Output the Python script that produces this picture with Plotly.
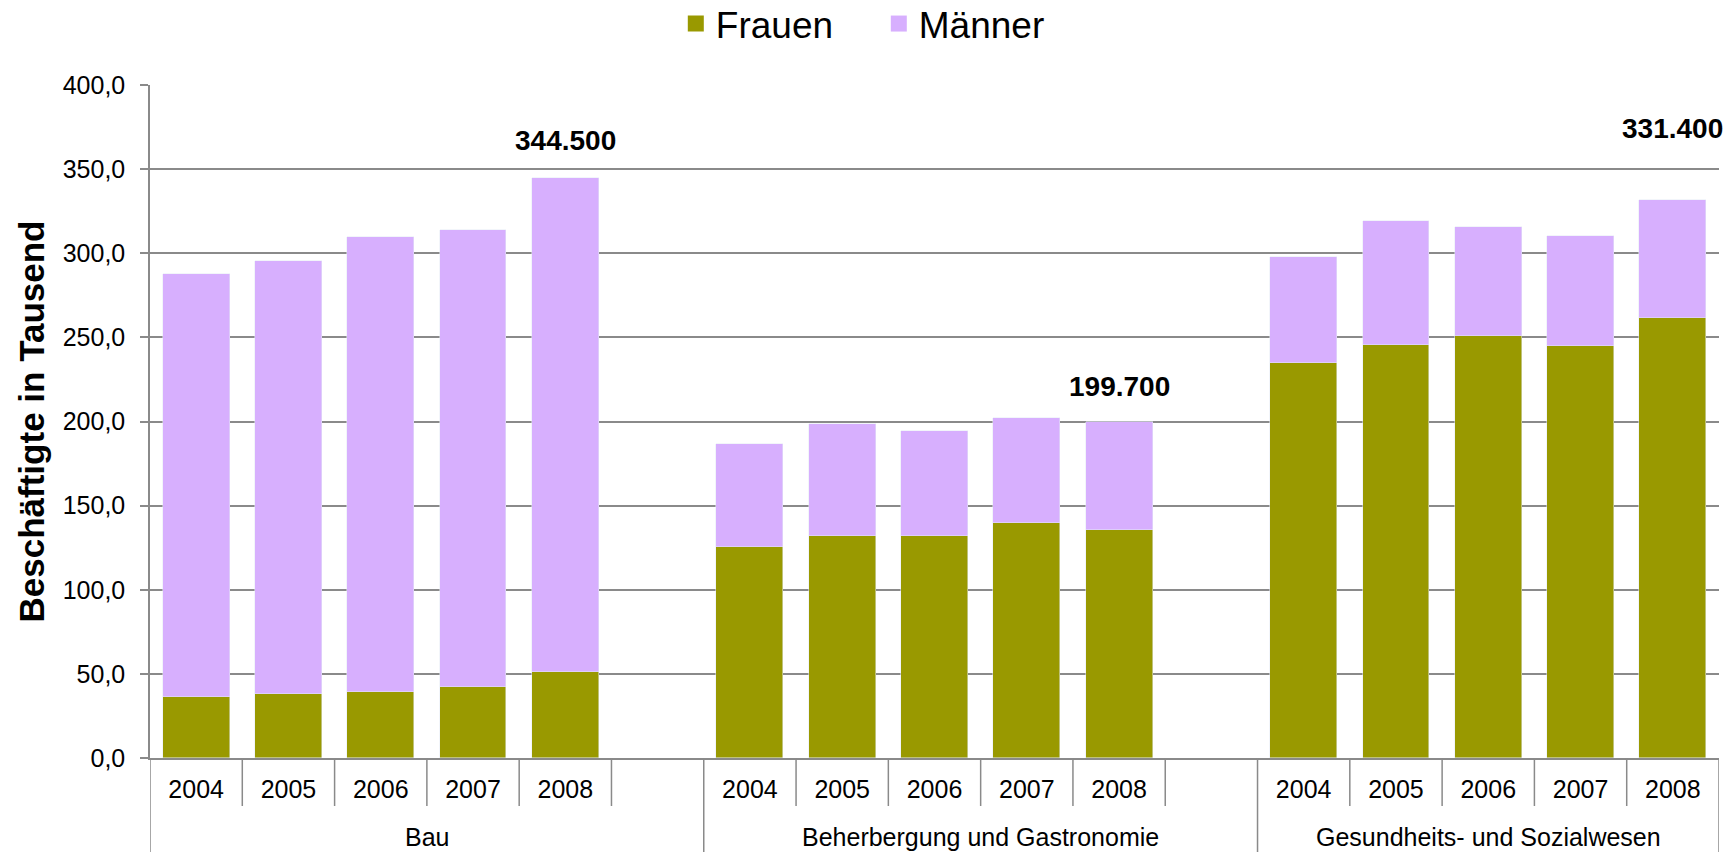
import plotly.graph_objects as go

# ---------------- data ----------------
groups = ["Bau", "Beherbergung und Gastronomie", "Gesundheits- und Sozialwesen"]
years = ["2004", "2005", "2006", "2007", "2008"]

frauen_bau = [36.5, 38.0, 39.1, 42.0, 51.2]
maenner_bau = [251.1, 257.3, 270.3, 271.9, 293.3]

frauen_gastro = [125.6, 131.9, 131.9, 139.8, 135.8]
maenner_gastro = [60.9, 66.7, 62.5, 62.5, 63.9]

frauen_gesund = [234.8, 245.3, 251.0, 244.7, 261.7]
maenner_gesund = [62.9, 73.8, 64.5, 65.3, 69.7]

label_values = [344.5, 199.7, 331.4]   # totals 2008, shown above the bars
y_ticks = [0, 50, 100, 150, 200, 250, 300, 350, 400]

# ---------------- styling ----------------
OLIVE = "#999900"
LILAC = "#d7affe"
GRID = "#8a8a8a"
FONT = "Arial, Liberation Sans, sans-serif"
SLOTS = 6          # 5 years + 1 empty slot per group
BAR_W = 0.725
label_shift = [38, 36, 72]

frauen = [frauen_bau, frauen_gastro, frauen_gesund]
maenner = [maenner_bau, maenner_gastro, maenner_gesund]

x_pos, f_vals, m_vals, tick_text = [], [], [], []
for g in range(len(groups)):
    for i, yr in enumerate(years):
        x_pos.append(g * SLOTS + i)
        f_vals.append(frauen[g][i])
        m_vals.append(maenner[g][i])
        tick_text.append(yr)

x_min = -0.5
x_max = (len(groups) - 1) * SLOTS + len(years) - 0.5

fig = go.Figure()
fig.add_trace(go.Bar(x=x_pos, y=f_vals, name="Frauen", marker_color=OLIVE,
                     width=BAR_W, showlegend=False, hoverinfo="y"))
fig.add_trace(go.Bar(x=x_pos, y=m_vals, name="Männer", marker_color=LILAC,
                     width=BAR_W, showlegend=False, hoverinfo="y"))
# legend entries
for name, col in [("Frauen", OLIVE), ("Männer", LILAC)]:
    fig.add_trace(go.Scatter(x=[None], y=[None], mode="markers", name=name,
                             marker=dict(symbol="square", size=19, color=col)))

# dividers on the category axis
plot_h = 673.0
shapes = []
for g in range(len(groups)):
    start = g * SLOTS - 0.5
    shapes.append(dict(type="line", xref="x", yref="paper", x0=start, x1=start,
                       y0=0, y1=-94 / plot_h, line=dict(color=GRID, width=1.5)))
    n = len(years) if g == len(groups) - 1 else SLOTS
    for k in range(1, n):
        xx = start + k
        shapes.append(dict(type="line", xref="x", yref="paper", x0=xx, x1=xx,
                           y0=0, y1=-48 / plot_h, line=dict(color=GRID, width=1.5)))
shapes.append(dict(type="line", xref="x", yref="paper", x0=x_max, x1=x_max,
                   y0=0, y1=-94 / plot_h, line=dict(color=GRID, width=1.5)))

annotations = []
for g, name in enumerate(groups):
    n = len(years) if g == len(groups) - 1 else SLOTS
    cx = g * SLOTS - 0.5 + n / 2
    annotations.append(dict(x=cx, y=-79 / plot_h, xref="x", yref="paper",
                            text=name, showarrow=False, yanchor="middle",
                            font=dict(family=FONT, size=25, color="black")))
for g, val in enumerate(label_values):
    xx = g * SLOTS + len(years) - 1
    txt = f"{int(round(val * 1000)):,}".replace(",", ".")
    annotations.append(dict(x=xx, y=frauen[g][-1] + maenner[g][-1], xref="x", yref="y",
                            text=f"<b>{txt}</b>", showarrow=False, yanchor="middle",
                            yshift=label_shift[g],
                            font=dict(family=FONT, size=28, color="black")))

fig.update_layout(
    width=1731, height=852,
    margin=dict(l=150, r=12, t=85, b=94, autoexpand=False),
    barmode="stack",
    bargap=0,
    separators=",.",
    plot_bgcolor="white", paper_bgcolor="white",
    font=dict(family=FONT, color="black"),
    legend=dict(orientation="h", traceorder="normal",
                x=0.4645, xanchor="center", y=1 + 61 / plot_h, yanchor="middle",
                font=dict(family=FONT, size=37, color="black"),
                entrywidth=158, entrywidthmode="pixels", itemclick=False),
    shapes=shapes,
    annotations=annotations,
    xaxis=dict(type="linear", range=[x_min, x_max], tickvals=x_pos, ticktext=tick_text,
               ticks="", showgrid=False, zeroline=False, showline=True, automargin=False,
               linecolor=GRID, linewidth=1.5, ticklabelstandoff=8,
               tickfont=dict(family=FONT, size=25, color="black")),
    yaxis=dict(range=[0, 400], tickvals=y_ticks, tickformat=".1f", automargin=False,
               ticks="outside", ticklen=8, tickcolor=GRID, tickwidth=1.5,
               showgrid=True, gridcolor=GRID, gridwidth=1.5, zeroline=False,
               showline=True, linecolor=GRID, linewidth=1.5, ticklabelstandoff=10,
               tickfont=dict(family=FONT, size=25, color="black"),
               title=dict(text="Beschäftigte in Tausend", standoff=7,
                          font=dict(family=FONT, size=35, color="black", weight="bold"))),
)

fig.write_html("out.html", config={"displayModeBar": False},
               post_script="document.body.style.margin='0';document.body.style.overflow='hidden';")
